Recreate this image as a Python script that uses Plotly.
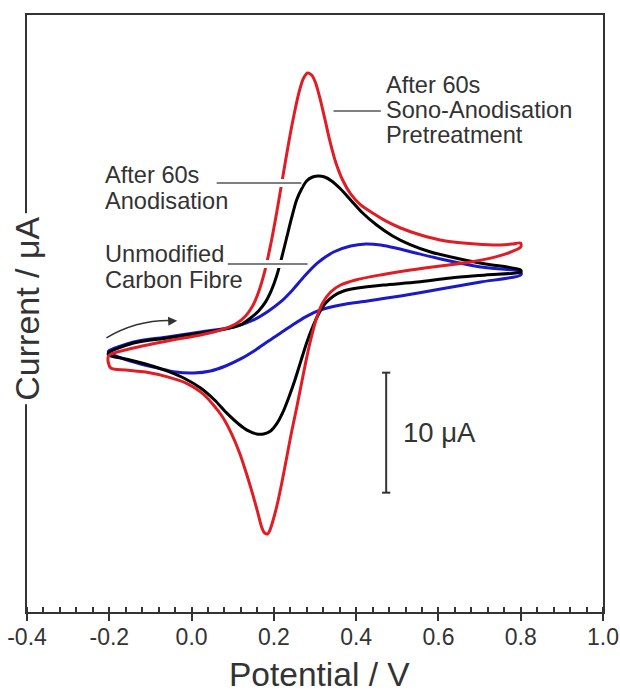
import plotly.graph_objects as go

# Cyclic voltammograms: potential (V) and current (uA), forward then reverse sweep
red_fwd_v = [-0.2018, -0.1410, -0.0584, 0.0219, 0.0705, 0.1070, 0.1313, 0.1483, 0.1629, 0.1775,
             0.1921, 0.2067, 0.2213, 0.2359, 0.2504, 0.2626, 0.2723, 0.2820, 0.2918, 0.3015,
             0.3112, 0.3234, 0.3355, 0.3501, 0.3671, 0.3866, 0.4109, 0.4401, 0.4717, 0.5081,
             0.5568, 0.6176, 0.6905, 0.7513, 0.7805, 0.8000]
red_fwd_i = [-0.33, 0.33, 0.92, 1.42, 1.83, 2.33, 3.0, 3.83, 5.0, 6.67,
             8.92, 11.58, 14.5, 17.42, 20.0, 21.83, 22.83, 23.25, 23.08, 22.42,
             21.25, 19.5, 17.67, 15.83, 14.33, 13.17, 12.25, 11.58, 10.92, 10.33,
             9.75, 9.25, 9.0, 8.92, 9.0, 9.08]
red_rev_v = [0.8000, 0.7756, 0.7391, 0.6783, 0.6054, 0.5325, 0.4595, 0.3987, 0.3623, 0.3380,
             0.3185, 0.3039, 0.2918, 0.2796, 0.2674, 0.2553, 0.2431, 0.2310, 0.2188, 0.2067,
             0.1969, 0.1896, 0.1848, 0.1775, 0.1702, 0.1605, 0.1483, 0.1337, 0.1167, 0.0973,
             0.0754, 0.0511, 0.0219, -0.0146, -0.0584, -0.1118, -0.1605, -0.1969]
red_rev_i = [8.75, 8.33, 7.92, 7.5, 7.17, 6.83, 6.42, 6.0, 5.58, 5.0,
             4.08, 2.83, 1.33, -0.5, -2.58, -4.67, -6.67, -8.83, -11.0, -12.92,
             -14.17, -14.92, -15.17, -15.08, -14.58, -13.33, -11.83, -10.17, -8.42, -6.83,
             -5.42, -4.33, -3.33, -2.58, -2.08, -1.67, -1.5, -1.33]

blk_fwd_v = [-0.2018, -0.1410, -0.0584, 0.0219, 0.0827, 0.1191, 0.1434, 0.1629, 0.1799, 0.1945,
             0.2067, 0.2188, 0.2310, 0.2431, 0.2553, 0.2674, 0.2796, 0.2942, 0.3088, 0.3234,
             0.3404, 0.3623, 0.3866, 0.4158, 0.4498, 0.4887, 0.5325, 0.5811, 0.6419, 0.7148,
             0.8000]
blk_fwd_i = [-0.08, 0.75, 1.17, 1.58, 1.92, 2.25, 2.83, 3.42, 4.17, 5.17,
             6.33, 7.83, 9.5, 11.17, 12.67, 13.58, 14.25, 14.58, 14.67, 14.58,
             14.25, 13.58, 12.67, 11.58, 10.58, 9.67, 8.92, 8.33, 7.83, 7.33,
             6.83]
blk_rev_v = [0.8000, 0.7148, 0.6297, 0.5495, 0.4668, 0.4036, 0.3696, 0.3452, 0.3258, 0.3088,
             0.2942, 0.2796, 0.2650, 0.2504, 0.2358, 0.2212, 0.2067, 0.1921, 0.1751, 0.1580,
             0.1386, 0.1143, 0.0851, 0.0559, 0.0219, -0.0146, -0.0584, -0.1118, -0.1605, -0.2018]
blk_rev_i = [6.67, 6.42, 6.17, 5.83, 5.58, 5.33, 5.08, 4.67, 4.08, 3.17,
             2.08, 0.75, -0.83, -2.42, -3.83, -5.08, -6.0, -6.58, -6.83, -6.83,
             -6.58, -6.0, -5.08, -4.0, -3.0, -2.25, -1.6, -1.0, -0.58, -0.25]

blu_fwd_v = [-0.2018, -0.1410, -0.0584, 0.0219, 0.1021, 0.1507, 0.1872, 0.2164, 0.2456, 0.2747,
             0.3063, 0.3452, 0.3866, 0.4231, 0.4595, 0.4960, 0.5446, 0.6054, 0.7027, 0.8000]
blu_fwd_i = [0.08, 0.83, 1.25, 1.67, 2.08, 2.67, 3.42, 4.17, 5.17, 6.33,
             7.42, 8.33, 8.83, 9.0, 8.92, 8.67, 8.25, 7.75, 7.08, 6.67]
blu_rev_v = [0.8000, 0.7027, 0.6054, 0.5081, 0.4279, 0.3623, 0.3136, 0.2772, 0.2456, 0.2164,
             0.1872, 0.1556, 0.1191, 0.0827, 0.0462, 0.0049, -0.0389, -0.0827, -0.1240, -0.1653,
             -0.2018]
blu_rev_i = [6.42, 5.83, 5.25, 4.67, 4.25, 3.92, 3.5, 2.92, 2.25, 1.58,
             0.92, 0.17, -0.58, -1.17, -1.58, -1.75, -1.67, -1.33, -1.0, -0.58,
             0.0]

x_ticks = [-0.4, -0.2, 0.0, 0.2, 0.4, 0.6, 0.8, 1.0]
x_tick_text = ["-0.4", "-0.2", "0.0", "0.2", "0.4", "0.6", "0.8", "1.0"]

# 10 uA scale bar
bar_v = 0.473
bar_i = [-1.725, -11.725]

INK = "#333333"
FONT = "Arial, Liberation Sans, sans-serif"

fig = go.Figure()


def add_cv(fv, fi, rv, ri, color):
    xs = fv + rv + [fv[0]]
    ys = fi + ri + [fi[0]]
    fig.add_trace(go.Scatter(x=xs, y=ys, mode="lines",
                             line=dict(color=color, width=3, shape="spline", smoothing=0.8),
                             hoverinfo="skip", showlegend=False))


add_cv(blu_fwd_v, blu_fwd_i, blu_rev_v, blu_rev_i, "#1a1ac8")
add_cv(blk_fwd_v, blk_fwd_i, blk_rev_v, blk_rev_i, "#000000")
add_cv(red_fwd_v, red_fwd_i, red_rev_v, red_rev_i, "#e01c24")

# sweep-direction arrow
fig.add_shape(type="path", xref="x", yref="y",
              path="M -0.207,1.17 Q -0.13,2.75 -0.04,2.6",
              line=dict(color=INK, width=1.5))
fig.add_annotation(x=-0.035, y=2.6, ax=-0.06, ay=2.55, xref="x", yref="y", axref="x", ayref="y",
                   text="", showarrow=True, arrowhead=2, arrowsize=1.2, arrowwidth=1.5,
                   arrowcolor=INK)

# leader lines with white halo
leaders = [((0.345, 0.46), 20.08), ((0.061, 0.267), 14.08), ((0.088, 0.282), 7.33)]
for (x0, x1), yv in leaders:
    fig.add_shape(type="line", xref="x", yref="y", x0=x0, x1=x1, y0=yv, y1=yv,
                  line=dict(color="white", width=8), layer="above")
for (x0, x1), yv in leaders:
    fig.add_shape(type="line", xref="x", yref="y", x0=x0, x1=x1, y0=yv, y1=yv,
                  line=dict(color="#555555", width=1.5), layer="above")

labels = [
    ("After 60s", 0.468, 22.25), ("Sono-Anodisation", 0.468, 20.17), ("Pretreatment", 0.468, 18.08),
    ("After 60s", -0.215, 14.71), ("Anodisation", -0.215, 12.58),
    ("Unmodified", -0.215, 8.17), ("Carbon Fibre", -0.215, 6.0),
]
for txt, xv, yv in labels:
    fig.add_annotation(x=xv, y=yv, xref="x", yref="y", text=txt, showarrow=False,
                       xanchor="left", yanchor="middle",
                       font=dict(family=FONT, size=23.6, color=INK))

# scale bar
fig.add_shape(type="line", xref="x", yref="y", x0=bar_v, x1=bar_v, y0=bar_i[0], y1=bar_i[1],
              line=dict(color=INK, width=2))
for yv in bar_i:
    fig.add_shape(type="line", xref="x", yref="y", x0=bar_v - 0.01, x1=bar_v + 0.01, y0=yv, y1=yv,
                  line=dict(color=INK, width=2))
fig.add_annotation(x=bar_v + 0.035, y=(bar_i[0] + bar_i[1]) / 2, xref="x", yref="y",
                   text="10 \u03bcA", showarrow=False, xanchor="left", yanchor="middle",
                   font=dict(family=FONT, size=27.5, color=INK))

# axis titles; the y title sits over the left frame line on a white box
fig.add_annotation(x=0, y=0.508, xref="paper", yref="paper", text="Current / \u03bcA",
                   textangle=-90, showarrow=False, xanchor="center", yanchor="middle",
                   bgcolor="white", borderpad=3,
                   font=dict(family=FONT, size=34, color=INK))
fig.add_annotation(x=0.508, y=-0.105, xref="paper", yref="paper", text="Potential / V",
                   showarrow=False, xanchor="center", yanchor="middle",
                   font=dict(family=FONT, size=33.5, color=INK))

fig.update_layout(
    width=620, height=693,
    margin=dict(l=27, r=17, t=15, b=81, autoexpand=False),
    paper_bgcolor="white", plot_bgcolor="white",
    font=dict(family=FONT, color=INK),
    xaxis=dict(range=[-0.4, 1.0], tickvals=x_ticks, ticktext=x_tick_text, automargin=False,
               showline=True, mirror=True, linecolor=INK, linewidth=2,
               ticks="outside", ticklen=7, tickwidth=2, tickcolor=INK, ticklabelstandoff=-4,
               minor=dict(dtick=0.04, tick0=-0.4, ticks="inside", ticklen=5, tickwidth=2,
                          tickcolor=INK, showgrid=False),
               showgrid=False, zeroline=False,
               tickfont=dict(family=FONT, size=23, color=INK)),
    yaxis=dict(range=[-21.67, 28.08], showline=True, mirror=True, linecolor=INK, linewidth=2,
               automargin=False, ticks="", showticklabels=False, showgrid=False, zeroline=False),
)

fig.write_html("out.html")
